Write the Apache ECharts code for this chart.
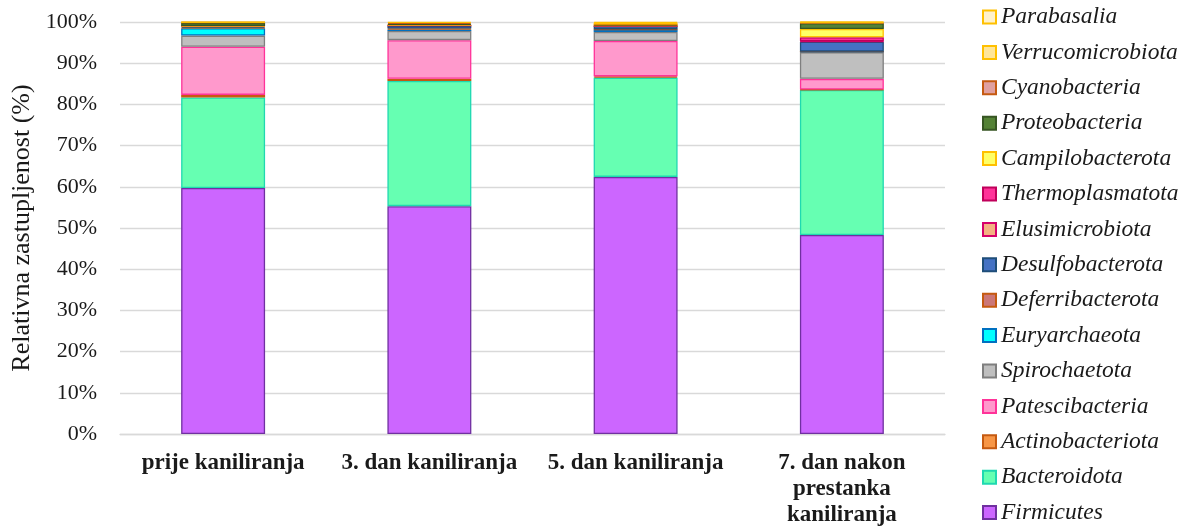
<!DOCTYPE html>
<html>
<head>
<meta charset="utf-8">
<script src="https://cdn.jsdelivr.net/npm/echarts@6/dist/echarts.min.js"></script>
<style>
html,body{margin:0;padding:0;background:#fff;}
#chart{width:1185px;height:529px;}
</style>
</head>
<body>
<div id="chart"></div>
<script>
const categories = ['prije kaniliranja', '3. dan kaniliranja', '5. dan kaniliranja', '7. dan nakon\nprestanka\nkaniliranja'];
const yTicks = [0, 10, 20, 30, 40, 50, 60, 70, 80, 90, 100];

const Firmicutes        = [59.7, 55.3, 62.4, 48.3];
const Bacteroidota      = [22.0, 30.4, 24.1, 35.2];
const Actinobacteriota  = [0.6, 0.5, 0.3, 0.1];
const Patescibacteria   = [11.7, 9.4, 8.6, 2.6];
const Spirochaetota     = [2.7, 2.2, 2.2, 6.5];
const Euryarchaeota     = [1.8, 0.4, 0.5, 0.1];
const Deferribacterota  = [0.1, 0.2, 0.1, 0.0];
const Desulfobacterota  = [0.3, 0.7, 0.8, 2.4];
const Elusimicrobiota   = [0.05, 0.05, 0.05, 0.1];
const Thermoplasmatota  = [0.05, 0.05, 0.05, 1.0];
const Campilobacterota  = [0.05, 0.1, 0.05, 2.0];
const Proteobacteria    = [0.8, 0.2, 0.2, 1.4];
const Cyanobacteria     = [0.05, 0.3, 0.05, 0.05];
const Verrucomicrobiota = [0.05, 0.2, 0.4, 0.2];
const Parabasalia       = [0.05, 0.05, 0.2, 0.1];

const seriesDefs = [
  ['Firmicutes', Firmicutes, '#CC66FF', '#7030A0'],
  ['Bacteroidota', Bacteroidota, '#66FFB2', '#1FD9B0'],
  ['Actinobacteriota', Actinobacteriota, '#F79646', '#C55A11'],
  ['Patescibacteria', Patescibacteria, '#FF99CC', '#FF3399'],
  ['Spirochaetota', Spirochaetota, '#BFBFBF', '#7F7F7F'],
  ['Euryarchaeota', Euryarchaeota, '#00FFFF', '#0070C0'],
  ['Deferribacterota', Deferribacterota, '#CC7777', '#C55A11'],
  ['Desulfobacterota', Desulfobacterota, '#4472C4', '#1F4E79'],
  ['Elusimicrobiota', Elusimicrobiota, '#F4B183', '#D6006B'],
  ['Thermoplasmatota', Thermoplasmatota, '#FF3399', '#C0005A'],
  ['Campilobacterota', Campilobacterota, '#FFFF66', '#FFC000'],
  ['Proteobacteria', Proteobacteria, '#548235', '#375623'],
  ['Cyanobacteria', Cyanobacteria, '#E0A0A0', '#C55A11'],
  ['Verrucomicrobiota', Verrucomicrobiota, '#FFE699', '#FFC000'],
  ['Parabasalia', Parabasalia, '#FFF2CC', '#FFC000']
];

const font = '"Liberation Serif", "Times New Roman", serif';

const series = seriesDefs.map(([name, data, fill, border]) => ({
  name: name,
  type: 'bar',
  stack: 'total',
  data: data,
  barWidth: '40.7%',
  itemStyle: { color: fill, borderColor: border, borderWidth: 1.3 },
  emphasis: { disabled: true }
}));

const chart = echarts.init(document.getElementById('chart'), null, { renderer: 'canvas' });
chart.setOption({
  animation: false,
  backgroundColor: '#ffffff',
  grid: { left: 120, right: 240, top: 22, bottom: 95, containLabel: false },
  legend: {
    orient: 'vertical',
    left: 982,
    top: 5,
    padding: 0,
    height: 600,
    data: seriesDefs.map(d => d[0]).reverse(),
    icon: 'rect',
    itemWidth: 13,
    itemHeight: 13,
    itemGap: 11.4,
    textStyle: { fontFamily: font, fontStyle: 'italic', fontSize: 23.5, color: '#1a1a1a', lineHeight: 24 }
  },
  xAxis: {
    type: 'category',
    data: categories,
    axisLine: { show: true, lineStyle: { color: '#D9D9D9', width: 1.3 } },
    axisTick: { show: false },
    axisLabel: {
      interval: 0,
      margin: 16,
      fontFamily: font,
      fontWeight: 'bold',
      fontSize: 23,
      lineHeight: 26,
      color: '#1a1a1a'
    }
  },
  yAxis: {
    type: 'value',
    min: yTicks[0],
    max: yTicks[yTicks.length - 1],
    interval: 10,
    name: 'Relativna zastupljenost (%)',
    nameLocation: 'middle',
    nameGap: 80,
    nameTextStyle: { fontFamily: font, fontSize: 26, color: '#1a1a1a' },
    axisLine: { show: false },
    axisTick: { show: false },
    axisLabel: {
      formatter: '{value}%',
      margin: 23,
      fontFamily: font,
      fontSize: 22,
      color: '#1a1a1a'
    },
    splitLine: { lineStyle: { color: '#D9D9D9', width: 1.3 } }
  },
  series: series
});
</script>
</body>
</html>
